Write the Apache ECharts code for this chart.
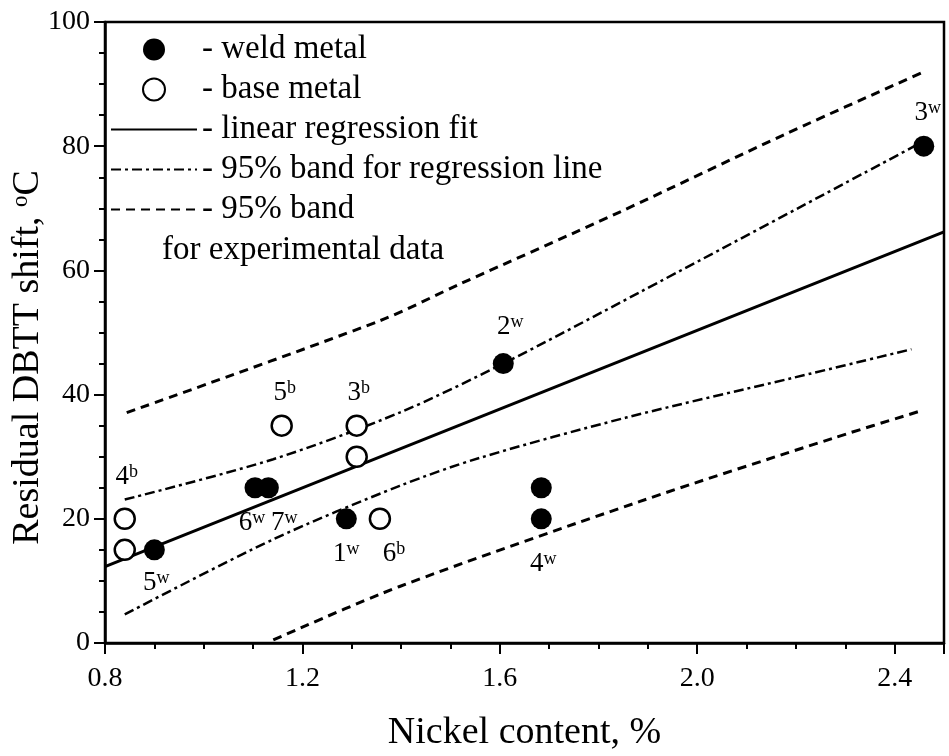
<!DOCTYPE html>
<html><head><meta charset="utf-8">
<script src="https://cdn.jsdelivr.net/npm/echarts@6/dist/echarts.min.js"></script>
<style>html,body{margin:0;padding:0;background:#fff}#c{width:949px;height:756px}</style>
</head><body><div id="c"></div>
<script>
// ---- data ----
const weldX = [0.90, 1.104, 1.131, 1.289, 1.607, 1.684, 1.684, 2.459];
const weldY = [15, 25, 25, 20, 45, 25, 20, 80];
const weldIds = ['5', '6', '7', '1', '2', '', '4', '3'];
const baseX = [0.84, 0.84, 1.158, 1.31, 1.31, 1.357];
const baseY = [20, 15, 35, 35, 30, 20];
const baseIds = ['4', '', '5', '3', '', '6'];

const fitX = [0.8, 2.5];
const fitY = [12.3, 66.2];
const confUpX = [0.84, 1.141, 1.397, 1.607, 1.884, 2.44];
const confUpY = [23.1, 29.6, 37.1, 45, 56.5, 80];
const confLoX = [0.84, 1.141, 1.397, 1.559, 1.856, 2.194, 2.434];
const confLoY = [4.6, 16.7, 25.3, 29.8, 36.3, 42.7, 47.3];
const predUpX = [0.844, 1.357, 1.519, 1.843, 2.18, 2.457];
const predUpY = [37.1, 51.9, 57.8, 69.4, 82, 91.9];
const predLoX = [1.141, 1.397, 1.884, 2.28, 2.454];
const predLoY = [0.5, 9.1, 22.8, 33.1, 37.4];

const xTicks = [0.8, 1.2, 1.6, 2.0, 2.4];
const xTickLabels = ['0.8', '1.2', '1.6', '2.0', '2.4'];
const yTicks = [0, 20, 40, 60, 80, 100];
const yTickLabels = ['0', '20', '40', '60', '80', '100'];

const legendNames = ['weld metal', 'base metal', 'linear regression fit', '95% band for regression line', '95% band'];

// ---- label placement (layout only) ----
const labelLayout = {
  '4b': ['top', [2, -8]], '5w': ['bottom', [2, 0]], '6w': ['bottom', [-3, 2]],
  '7w': ['bottom', [16, 2]], '5b': ['top', [3, 1]], '3b': ['top', [2, 1]],
  '1w': ['bottom', [0, 2]], '6b': ['bottom', [14, 1]], '2w': ['top', [7, -4]],
  '4w': ['bottom', [2, 12]], '3w': ['top', [4, 0]]
};

const SERIF = 'Liberation Serif';
const labelRich = {
  n: { fontFamily: SERIF, fontSize: 27, color: '#000', lineHeight: 27 },
  s: { fontFamily: SERIF, fontSize: 18, color: '#000', verticalAlign: 'top', lineHeight: 18 }
};

function pts(xs, ys) { return xs.map((x, i) => [x, ys[i]]); }
function scatterData(xs, ys, ids, sup) {
  return xs.map((x, i) => {
    const id = ids[i];
    if (!id) return { value: [x, ys[i]], label: { show: false } };
    const lay = labelLayout[id + sup];
    return {
      value: [x, ys[i]],
      label: {
        show: true, position: lay[0], offset: lay[1], distance: 9, color: '#000',
        formatter: '{n|' + id + '}{s|' + sup + '}', rich: labelRich
      }
    };
  });
}

const chart = echarts.init(document.getElementById('c'), null, { renderer: 'canvas' });
const dashDot = [10, 4, 3, 4];
const dashed = [9, 6];
const hiddenSym = { color: '#000', opacity: 0 };

chart.setOption({
  animation: false,
  backgroundColor: '#fff',
  grid: { left: 105, right: 5, top: 22, bottom: 113, show: true, borderColor: '#000', borderWidth: 2.5,
          containLabel: false, outerBoundsMode: 'none' },
  legend: {
    orient: 'vertical', left: 110, top: 33, padding: 0, itemGap: 7,
    itemWidth: 86, itemHeight: 22, selectedMode: false,
    data: legendNames,
    formatter: n => '- ' + n,
    textStyle: { fontFamily: SERIF, fontSize: 33, color: '#000', lineHeight: 30 }
  },
  graphic: [{
    type: 'text', left: 162, top: 234,
    style: { text: 'for experimental data', font: '33px "Liberation Serif"', fill: '#000' }
  }],
  xAxis: [{
    type: 'value', min: 0.8, max: 2.5, interval: 0.1,
    position: 'bottom',
    name: 'Nickel content, %', nameLocation: 'middle', nameGap: 71,
    nameTextStyle: { fontFamily: SERIF, fontSize: 38, color: '#000' },
    axisLine: { show: true, lineStyle: { color: '#000', width: 2.5 } },
    axisTick: { show: true, length: 6, lineStyle: { color: '#000', width: 2 } },
    axisLabel: {
      color: '#000', fontFamily: SERIF, fontSize: 28, margin: 22,
      formatter: v => { const i = xTicks.findIndex(t => Math.abs(t - v) < 1e-6); return i >= 0 ? xTickLabels[i] : ''; }
    },
    splitLine: { show: false }
  }, {
    type: 'value', min: 0.8, max: 2.5, interval: 0.4,
    position: 'bottom', offset: 0,
    axisLine: { show: false },
    axisTick: { show: true, length: 11, lineStyle: { color: '#000', width: 2 } },
    axisLabel: { show: false },
    splitLine: { show: false }
  }],
  yAxis: {
    type: 'value', min: 0, max: 100, interval: 20,
    name: 'Residual DBTT shift, {o|o}C', nameLocation: 'middle', nameGap: 58, nameMoveOverlap: false,
    nameTextStyle: {
      fontFamily: SERIF, fontSize: 38, color: '#000', padding: [0, 50, 0, 0],
      rich: { o: { fontFamily: SERIF, fontSize: 23, color: '#000', verticalAlign: 'top' } }
    },
    axisLine: { show: true, lineStyle: { color: '#000', width: 2.5 } },
    axisTick: { show: true, length: 11, lineStyle: { color: '#000', width: 2 } },
    minorTick: { show: true, splitNumber: 4, length: 6, lineStyle: { color: '#000', width: 2 } },
    axisLabel: {
      color: '#000', fontFamily: SERIF, fontSize: 28, margin: 15,
      formatter: v => { const i = yTicks.indexOf(Math.round(v)); return i >= 0 ? yTickLabels[i] : ''; }
    },
    splitLine: { show: false }
  },
  series: [
    { name: 'linear regression fit', type: 'line', data: pts(fitX, fitY), symbol: 'none',
      itemStyle: hiddenSym, lineStyle: { color: '#000', width: 3, type: 'solid' }, z: 2 },
    { name: '95% band for regression line', type: 'line', data: pts(confUpX, confUpY), symbol: 'none', smooth: 0.3,
      itemStyle: hiddenSym, lineStyle: { color: '#000', width: 2.5, type: dashDot }, z: 2 },
    { name: '95% band for regression line', type: 'line', data: pts(confLoX, confLoY), symbol: 'none', smooth: 0.3,
      itemStyle: hiddenSym, lineStyle: { color: '#000', width: 2.5, type: dashDot }, z: 2 },
    { name: '95% band', type: 'line', data: pts(predUpX, predUpY), symbol: 'none', smooth: 0.3,
      itemStyle: hiddenSym, lineStyle: { color: '#000', width: 3, type: dashed }, z: 2 },
    { name: '95% band', type: 'line', data: pts(predLoX, predLoY), symbol: 'none', smooth: 0.3,
      itemStyle: hiddenSym, lineStyle: { color: '#000', width: 3, type: dashed }, z: 2 },
    { name: 'weld metal', type: 'scatter', data: scatterData(weldX, weldY, weldIds, 'w'),
      symbol: 'circle', symbolSize: 21, itemStyle: { color: '#000', opacity: 1 }, z: 5 },
    { name: 'base metal', type: 'scatter', data: scatterData(baseX, baseY, baseIds, 'b'),
      symbol: 'circle', symbolSize: 20, itemStyle: { color: '#fff', borderColor: '#000', borderWidth: 2.5, opacity: 1 }, z: 5 }
  ]
});
</script></body></html>
